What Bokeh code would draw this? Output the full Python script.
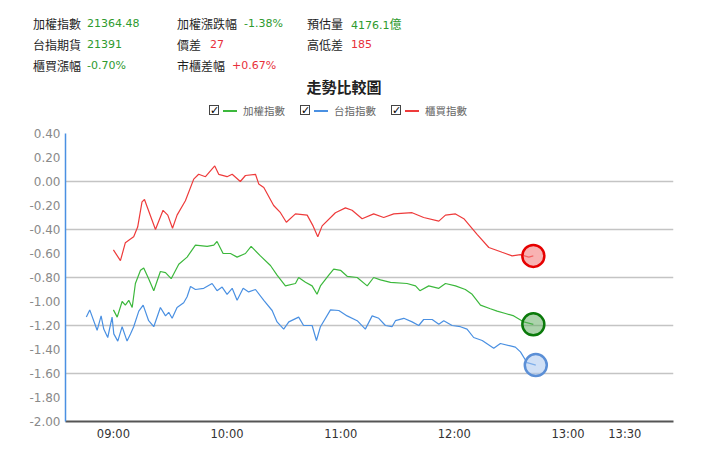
from bokeh.plotting import figure
from bokeh.models import Range1d, FixedTicker, PrintfTickFormatter, Div
from bokeh.layouts import column
from bokeh.embed import file_html
from bokeh.resources import INLINE

# ---------------- data ----------------
# minutes relative to 09:00
red_t = [0, 3.7, 6.3, 9, 10.7, 12.8, 15.1, 16.4, 17.8, 22.2, 26.2, 28.7, 31.2, 33.6, 38, 42.4, 45, 48.6,
         53.5, 55.6, 60, 62.7, 67, 69.7, 75, 76.7, 79.4, 84.6, 88.2, 91.3, 96.1, 102.3, 105.4, 107.9, 110.2,
         117.2, 122.5, 126, 131.3, 137.4, 142.7, 148, 157.7, 163.8, 171.8, 175.3, 180.6, 185, 192, 198.2,
         205.2, 210.5, 214.9, 219.3, 221.7]
red_v = [-0.57, -0.66, -0.51, -0.48, -0.46, -0.38, -0.17, -0.15, -0.21, -0.40, -0.24, -0.28, -0.39, -0.28,
         -0.16, 0.02, 0.06, 0.04, 0.13, 0.06, 0.04, 0.06, 0.00, 0.05, 0.06, -0.02, -0.05, -0.20, -0.26, -0.34,
         -0.27, -0.28, -0.37, -0.46, -0.37, -0.26, -0.22, -0.24, -0.31, -0.27, -0.30, -0.27, -0.26, -0.30,
         -0.33, -0.28, -0.27, -0.31, -0.44, -0.55, -0.59, -0.62, -0.61, -0.63, -0.62]

green_t = [0, 2, 4.6, 6.3, 8.1, 9.9, 11.6, 14.3, 16, 18.6, 21.3, 24.8, 27.5, 30.5, 34.5, 38.9, 43.3, 49.5,
           53, 54.7, 57.9, 61.8, 65.3, 69.7, 72.7, 77.6, 82.9, 86.4, 90.8, 96.1, 97.8, 101.4, 104.9, 107.5,
           109.3, 113.7, 116.3, 119.9, 123.4, 128.7, 134, 137.4, 141, 146.3, 155, 159.5, 161.8, 166.5, 171.8,
           175.3, 180.6, 185.8, 189.4, 193.8, 199, 202.6, 207, 211.4, 216.7, 221.7]
green_v = [-1.07, -1.13, -1.00, -1.03, -0.99, -1.05, -0.85, -0.74, -0.72, -0.81, -0.91, -0.75, -0.76, -0.81,
           -0.69, -0.63, -0.53, -0.54, -0.53, -0.50, -0.60, -0.60, -0.63, -0.60, -0.54, -0.62, -0.70, -0.78,
           -0.87, -0.85, -0.80, -0.84, -0.87, -0.94, -0.87, -0.78, -0.73, -0.74, -0.79, -0.80, -0.87, -0.80,
           -0.82, -0.84, -0.85, -0.87, -0.91, -0.87, -0.89, -0.85, -0.87, -0.90, -0.94, -1.03, -1.06, -1.08,
           -1.10, -1.12, -1.17, -1.19]

blue_t = [-14.3, -12.5, -8.6, -6.5, -5.1, -3, -0.7, 0.2, 2.3, 4.6, 7.2, 9, 10.7, 13.4, 15.7, 18.6, 21.3,
          24.8, 27.5, 29.2, 31, 33.6, 37.1, 38.9, 40.7, 43.3, 47.7, 52.1, 54.7, 57.4, 60, 62.7, 65.3, 68.5,
          71.4, 75, 79.4, 83.8, 86.4, 89.9, 92.6, 97.8, 100.4, 104.9, 107.2, 109.3, 114.6, 119, 123.4, 128.7,
          133, 136.6, 140.1, 143.6, 147.1, 148.9, 153.3, 157.7, 161.2, 163.8, 168.3, 171.8, 174.4, 178.8,
          183.2, 186.7, 190.2, 194.7, 200.8, 204.3, 209.6, 212.2, 214.9, 218.4, 223]
blue_v = [-1.13, -1.07, -1.24, -1.12, -1.23, -1.30, -1.13, -1.27, -1.33, -1.21, -1.33, -1.27, -1.21, -1.08,
          -1.03, -1.16, -1.21, -1.05, -1.12, -1.09, -1.14, -1.05, -1.01, -0.96, -0.875, -0.90, -0.89, -0.85,
          -0.91, -0.88, -0.94, -0.89, -0.99, -0.89, -0.92, -0.90, -0.99, -1.075, -1.17, -1.23, -1.17, -1.13,
          -1.20, -1.20, -1.325, -1.21, -1.07, -1.075, -1.12, -1.16, -1.23, -1.12, -1.14, -1.20, -1.21, -1.16,
          -1.14, -1.17, -1.20, -1.15, -1.15, -1.19, -1.16, -1.20, -1.21, -1.23, -1.30, -1.325, -1.39, -1.35,
          -1.37, -1.38, -1.42, -1.51, -1.53]

x_tick_minutes = [0, 60, 120, 180, 240, 270]
x_tick_labels = ["09:00", "10:00", "11:00", "12:00", "13:00", "13:30"]
y_ticks = [0.4, 0.2, 0.0, -0.2, -0.4, -0.6, -0.8, -1.0, -1.2, -1.4, -1.6, -1.8, -2.0]
y_grid = [0.0, -0.4, -0.8, -1.2, -1.6]

series_names = ["加權指數", "台指指數", "櫃買指數"]

header_names = [["加權指數", "加權漲跌幅", "預估量"],
                ["台指期貨", "價差", "高低差"],
                ["櫃買漲幅", "市櫃差幅", ""]]
header_values = [["21364.48", "-1.38%", "4176.1億"],
                 ["21391", "27", "185"],
                 ["-0.70%", "+0.67%", ""]]
chart_title = "走勢比較圖"

# ---------------- styles / layout ----------------
W = 712
HEAD_H = 125                      # height of the header block (title, legend, quote table)
PH = 451 - HEAD_H                 # figure height
FL, FR = 65, 673                  # frame left/right in canvas pixels
FT, FB = 133 - HEAD_H, 421 - HEAD_H
X0, X1, Y0, Y1 = -25.3, 295.7, -2.0, 0.4
GREEN, BLUE, RED = "#3cb83c", "#4a90e2", "#ee3b3b"
TXT_G, TXT_R = "#2e9a2e", "#e8303a"
CJK = "'Noto Sans CJK TC'"

# ---------- header block ----------
spans = []


def span(px, py, text, color="#2a2a2a", font=CJK, size=12, weight="normal", center=False):
    tr = "transform:translateX(-50%);" if center else ""
    spans.append(
        f'<span style="position:absolute;left:{px}px;top:{py - 9}px;line-height:18px;height:18px;'
        f'font-family:{font};font-size:{size}px;font-weight:{weight};color:{color};'
        f'white-space:nowrap;{tr}">{text}</span>')


col_x = [33, 177, 307]
val_x = [[87, 244, 351], [87, 210, 351], [87, 232, 351]]
row_y = [24, 45, 66]
val_colors = [[TXT_G, TXT_G, TXT_G], [TXT_G, TXT_R, TXT_R], [TXT_G, TXT_R, TXT_R]]
for r in range(3):
    for c in range(3):
        if header_names[r][c]:
            span(col_x[c], row_y[r], header_names[r][c], size=12, color="#1e1e1e")
            v = header_values[r][c]
            if v.endswith("億"):
                span(val_x[r][c], row_y[r],
                     f'{v[:-1]}<span style="font-family:{CJK};font-size:12px">{v[-1]}</span>',
                     color=val_colors[r][c], font="'DejaVu Sans'", size=11)
            else:
                span(val_x[r][c], row_y[r], v, color=val_colors[r][c], font="'DejaVu Sans'", size=11)

span(344, 87, chart_title, color="#222222", size=15, weight="bold", center=True)

leg_box_x = [209, 300, 391]
leg_colors = [GREEN, BLUE, RED]
for bx, name, col in zip(leg_box_x, series_names, leg_colors):
    spans.append(
        f'<span style="position:absolute;left:{bx}px;top:105px;width:10px;height:10px;'
        f'border:1px solid #444;background:#fff;font-family:\'DejaVu Sans\';font-size:11px;'
        f'line-height:10px;text-align:center;color:#000;font-weight:bold">✓</span>')
    spans.append(
        f'<span style="position:absolute;left:{bx + 14}px;top:110px;width:14px;height:1.5px;'
        f'background:{col}"></span>')
    span(bx + 34, 111, name, color="#666666", size=10.5)

header = Div(text=f'<div style="position:relative;width:{W}px;height:{HEAD_H}px;">' + "".join(spans) + "</div>",
             width=W, height=HEAD_H, margin=0)

# ---------- chart ----------
p = figure(width=W, height=PH, output_backend="svg", toolbar_location=None,
           x_range=Range1d(X0, X1), y_range=Range1d(Y0, Y1), margin=0,
           min_border_left=FL, min_border_right=W - FR, min_border_top=FT, min_border_bottom=PH - FB)
p.outline_line_color = None
p.background_fill_color = "white"
p.border_fill_color = "white"

p.xgrid.grid_line_color = None
p.ygrid.ticker = FixedTicker(ticks=y_grid)
p.ygrid.grid_line_color = "#c4c4c4"
p.ygrid.grid_line_width = 1.5

p.yaxis.ticker = FixedTicker(ticks=y_ticks)
p.yaxis.formatter = PrintfTickFormatter(format="%.2f")
p.yaxis.axis_line_color = "#4a90e2"
p.yaxis.axis_line_width = 1.5
p.yaxis.major_tick_line_color = None
p.yaxis.minor_tick_line_color = None
p.yaxis.major_tick_out = 0
p.yaxis.major_tick_in = 0
p.yaxis.major_label_text_color = "#8a8a8a"
p.yaxis.major_label_text_font = "DejaVu Sans"
p.yaxis.major_label_text_font_size = "12px"
p.yaxis.major_label_standoff = 5

p.xaxis.ticker = FixedTicker(ticks=x_tick_minutes)
p.xaxis.major_label_overrides = {m: s for m, s in zip(x_tick_minutes, x_tick_labels)}
p.xaxis.axis_line_color = "#555555"
p.xaxis.axis_line_width = 2
p.xaxis.major_tick_line_color = None
p.xaxis.minor_tick_line_color = None
p.xaxis.major_tick_out = 0
p.xaxis.major_tick_in = 0
p.xaxis.major_label_text_color = "#333333"
p.xaxis.major_label_text_font = "DejaVu Sans"
p.xaxis.major_label_text_font_size = "11.5px"
p.xaxis.major_label_standoff = 5

p.line(red_t, red_v, line_color=RED, line_width=1.2)
p.line(green_t, green_v, line_color=GREEN, line_width=1.2)
p.line(blue_t, blue_v, line_color=BLUE, line_width=1.2)

p.scatter([red_t[-1]], [red_v[-1]], size=22, fill_color="#f47f7f", fill_alpha=0.6,
          line_color="#e60000", line_width=2.5)
p.scatter([green_t[-1]], [green_v[-1]], size=22, fill_color="#5aa85a", fill_alpha=0.5,
          line_color="#0a7a0a", line_width=2.5)
p.scatter([blue_t[-1]], [blue_v[-1]], size=22, fill_color="#a9c6ee", fill_alpha=0.55,
          line_color="#5b8fd6", line_width=2.5)

layout = column(header, p, spacing=0, margin=0)
open("out.html", "w").write(file_html(layout, INLINE))
